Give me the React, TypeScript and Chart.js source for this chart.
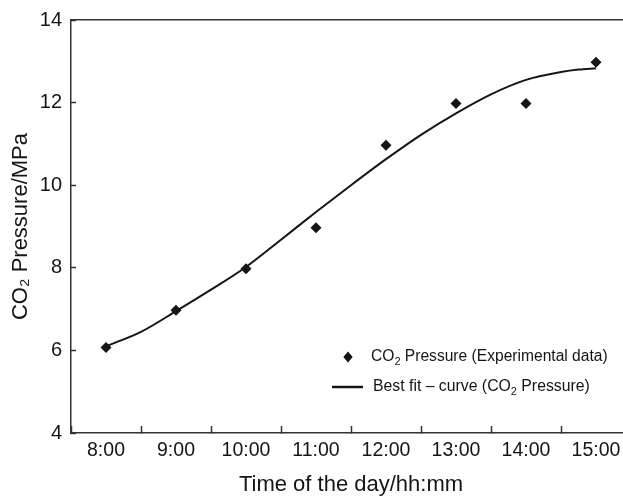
import React, { useEffect, useRef } from "react";
import { Chart, registerables } from "chart.js";

Chart.register(...registerables);

// ---- data ----
const hours = [8, 9, 10, 11, 12, 13, 14, 15];
const hourLabels = ["8:00", "9:00", "10:00", "11:00", "12:00", "13:00", "14:00", "15:00"];
const pressureExp = [6.07, 6.97, 7.98, 8.97, 10.97, 11.98, 11.98, 12.98];
const fitHours = [8.0, 8.5, 9.0, 9.5, 10.0, 10.5, 11.0, 11.5, 12.0, 12.5, 13.0, 13.5, 14.0, 14.5, 14.75, 15.0];
const fitPressure = [6.1, 6.45, 6.95, 7.47, 8.02, 8.68, 9.35, 10.0, 10.63, 11.22, 11.74, 12.2, 12.55, 12.74, 12.8, 12.83];
const yTicks = [4, 6, 8, 10, 12, 14];
const xTitle = "Time of the day/hh:mm";
const yTitle = "CO\u2082 Pressure/MPa";
const legendExp = ["CO", "2", " Pressure (Experimental data)"];
const legendFit = ["Best fit \u2013 curve (CO", "2", " Pressure)"];

const FONT = "'Liberation Sans', Arial, Helvetica, sans-serif";
const INK = "#151515";
const AXIS = "#333333";

function drawSubText(ctx: CanvasRenderingContext2D, parts: string[], x: number, y: number, size: number) {
  ctx.font = `${size}px ${FONT}`;
  ctx.fillText(parts[0], x, y);
  let cx = x + ctx.measureText(parts[0]).width;
  ctx.font = `${Math.round(size * 0.68)}px ${FONT}`;
  ctx.fillText(parts[1], cx, y + size * 0.3);
  cx += ctx.measureText(parts[1]).width;
  ctx.font = `${size}px ${FONT}`;
  ctx.fillText(parts[2], cx, y);
}

const legendPlugin = {
  id: "customLegend",
  afterDraw(chart: any) {
    const { ctx, chartArea } = chart;
    const L = chartArea.left;
    const B = chartArea.bottom;
    ctx.save();
    ctx.fillStyle = INK;
    ctx.strokeStyle = INK;
    ctx.textBaseline = "middle";
    ctx.textAlign = "left";
    // diamond marker
    const mx = L + 277;
    const my = B - 76;
    const r = 5.5;
    ctx.beginPath();
    ctx.moveTo(mx, my - r);
    ctx.lineTo(mx + r * 0.85, my);
    ctx.lineTo(mx, my + r);
    ctx.lineTo(mx - r * 0.85, my);
    ctx.closePath();
    ctx.fill();
    drawSubText(ctx, legendExp, L + 300, my, 15.6);
    // line sample
    const ly = B - 46;
    ctx.lineWidth = 2.5;
    ctx.beginPath();
    ctx.moveTo(L + 261, ly);
    ctx.lineTo(L + 292, ly);
    ctx.stroke();
    drawSubText(ctx, legendFit, L + 302, ly, 15.8);
    ctx.restore();
  },
};

export default function App() {
  const ref = useRef<HTMLCanvasElement | null>(null);

  useEffect(() => {
    if (!ref.current) return;
    const chart = new Chart(ref.current, {
      type: "line",
      data: {
        datasets: [
          {
            label: "CO2 Pressure (Experimental data)",
            data: hours.map((h, i) => ({ x: h, y: pressureExp[i] })),
            showLine: false,
            pointStyle: "rectRot",
            pointRadius: 5.5,
            pointBackgroundColor: INK,
            pointBorderColor: INK,
            pointBorderWidth: 0,
            xAxisID: "x",
            yAxisID: "y",
          } as any,
          {
            label: "Best fit - curve (CO2 Pressure)",
            data: fitHours.map((h, i) => ({ x: h, y: fitPressure[i] })),
            borderColor: INK,
            borderWidth: 2,
            pointRadius: 0,
            cubicInterpolationMode: "monotone",
            fill: false,
            xAxisID: "x",
            yAxisID: "y",
          } as any,
        ],
      },
      options: {
        responsive: false,
        animation: false,
        events: [],
        layout: { padding: { top: 0, right: 17, left: 0, bottom: 0 } },
        plugins: { legend: { display: false }, tooltip: { enabled: false } },
        scales: {
          x: {
            type: "linear",
            position: "bottom",
            min: 7.5,
            max: 15.5,
            afterBuildTicks: (s: any) => {
              s.ticks = hours.map((v) => ({ value: v }));
            },
            afterFit: (s: any) => {
              s.height = 65;
            },
            ticks: {
              autoSkip: false,
              maxRotation: 0,
              padding: 13,
              color: INK,
              font: { family: FONT, size: 19.5 },
              callback: (_v: any, i: number) => hourLabels[i],
            },
            grid: {
              offset: true,
              drawOnChartArea: false,
              drawTicks: true,
              tickLength: -7,
              tickColor: AXIS,
              tickWidth: 1.5,
            },
            border: { display: true, color: AXIS, width: 1.5 },
            title: {
              display: true,
              text: xTitle,
              color: INK,
              font: { family: FONT, size: 22 },
              padding: { top: 0, bottom: 0 },
            },
          },
          xTop: {
            type: "linear",
            axis: "x",
            position: "top",
            min: 7.5,
            max: 15.5,
            afterFit: (s: any) => {
              s.height = 0;
            },
            ticks: { display: false },
            grid: { drawOnChartArea: false, drawTicks: false },
            border: { display: true, color: AXIS, width: 1.5 },
          },
          y: {
            type: "linear",
            position: "left",
            min: 4,
            max: 14,
            afterBuildTicks: (s: any) => {
              s.ticks = yTicks.map((v) => ({ value: v }));
            },
            afterFit: (s: any) => {
              s.width = 63;
              s.paddingTop = 12;
            },
            ticks: {
              padding: 14,
              color: INK,
              font: { family: FONT, size: 20 },
            },
            grid: {
              drawOnChartArea: false,
              drawTicks: true,
              tickLength: -5,
              tickColor: AXIS,
              tickWidth: 1.5,
            },
            border: { display: true, color: AXIS, width: 1.5 },
            title: {
              display: true,
              text: yTitle,
              color: INK,
              font: { family: FONT, size: 22 },
              padding: { top: 0, bottom: 0 },
            },
          },
        },
      } as any,
      plugins: [legendPlugin],
    });
    return () => chart.destroy();
  }, []);

  return (
    <div style={{ position: "fixed", left: 8, top: 8, width: 615, height: 490, overflow: "hidden" }}>
      <canvas ref={ref} width={640} height={490} style={{ width: 640, height: 490, display: "block" }} />
    </div>
  );
}
